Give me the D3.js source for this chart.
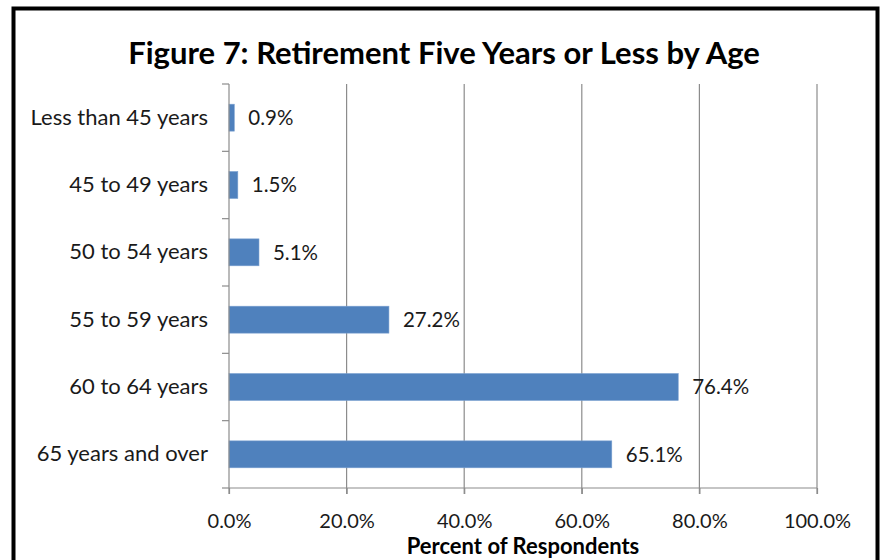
<!DOCTYPE html>
<html><head><meta charset="utf-8">
<script src="https://cdn.jsdelivr.net/npm/d3@7"></script>
<style>body{margin:0;background:#fff}svg{display:block}</style>
</head><body>
<svg id="c" width="882" height="560"></svg>
<script>
const categories = ["Less than 45 years","45 to 49 years","50 to 54 years","55 to 59 years","60 to 64 years","65 years and over"];
const values = [0.9, 1.5, 5.1, 27.2, 76.4, 65.1];
const xTicks = [0, 20, 40, 60, 80, 100];
const title = "Figure 7: Retirement Five Years or Less by Age";
const xTitle = "Percent of Respondents";

const svg = d3.select("#c");
const font = "Lato, 'Open Sans', sans-serif";
const m = {left:229, right:817, top:84, bottom:488};

svg.append("rect").attr("width",882).attr("height",560).attr("fill","#fff");
svg.append("rect").attr("x",13.5).attr("y",8.5).attr("width",864).attr("height",600)
  .attr("fill","none").attr("stroke","#000").attr("stroke-width",4);

const x = d3.scaleLinear().domain([0,100]).range([m.left, m.right]);
const y = d3.scaleBand().domain(categories).range([m.top, m.bottom]).paddingInner(0.6).paddingOuter(0.3);

// gridlines
svg.append("g").selectAll("line").data(xTicks.slice(1)).join("line")
  .attr("x1",d=>x(d)).attr("x2",d=>x(d)).attr("y1",m.top).attr("y2",m.bottom+6)
  .attr("stroke","#8c8c8c").attr("stroke-width",1.2);

// bars
svg.append("g").selectAll("rect").data(values).join("rect")
  .attr("x",x(0)).attr("y",(d,i)=>y(categories[i]))
  .attr("width",d=>x(d)-x(0)).attr("height",y.bandwidth())
  .attr("fill","#4f81bd").attr("stroke","#7aa0d0").attr("stroke-width",0.6);

// value labels
svg.append("g").selectAll("text").data(values).join("text")
  .attr("x",d=>x(d)+14).attr("y",(d,i)=>y(categories[i])+y.bandwidth()/2)
  .attr("dy","0.36em").attr("font-family",font).attr("font-size",20.5).attr("fill","#1a1a1a")
  .text(d=>d.toFixed(1)+"%");

// y axis
const yAxis = d3.axisLeft(d3.scaleBand().domain(categories).range([m.top,m.bottom])).tickSize(0).tickPadding(21);
const gy = svg.append("g").attr("transform",`translate(${m.left},0)`).call(yAxis);
gy.select(".domain").remove();
gy.selectAll("text").attr("font-family",font).attr("font-size",22).attr("fill","#1a1a1a");
// y axis line and boundary ticks
const bounds = d3.range(categories.length+1).map(i=>m.top + i*(m.bottom-m.top)/categories.length);
svg.append("line").attr("x1",m.left).attr("x2",m.left).attr("y1",m.top).attr("y2",m.bottom+6).attr("stroke","#8c8c8c").attr("stroke-width",1.2);
svg.append("g").selectAll("line").data(bounds).join("line")
  .attr("x1",m.left-7).attr("x2",m.left).attr("y1",d=>d).attr("y2",d=>d)
  .attr("stroke","#8c8c8c").attr("stroke-width",1.2);

// x axis
const xAxis = d3.axisBottom(x).tickValues(xTicks).tickSize(6).tickPadding(20).tickFormat(d=>d.toFixed(1)+"%");
const gx = svg.append("g").attr("transform",`translate(0,${m.bottom})`).call(xAxis);
gx.select(".domain").attr("stroke","#8c8c8c").attr("stroke-width",1.2).attr("d",`M${m.left},0H${m.right}`);
gx.selectAll(".tick line").attr("stroke","#8c8c8c").attr("stroke-width",1.2);
gx.selectAll("text").attr("font-family",font).attr("font-size",20).attr("fill","#1a1a1a");

// titles
svg.append("text").attr("x",444).attr("y",64).attr("text-anchor","middle")
  .attr("font-family",font).attr("font-weight","bold").attr("font-size",31).attr("fill","#000").text(title);
svg.append("text").attr("x",523).attr("y",554).attr("text-anchor","middle")
  .attr("font-family",font).attr("font-weight","bold").attr("font-size",22).attr("fill","#000").text(xTitle);
</script>
</body></html>
